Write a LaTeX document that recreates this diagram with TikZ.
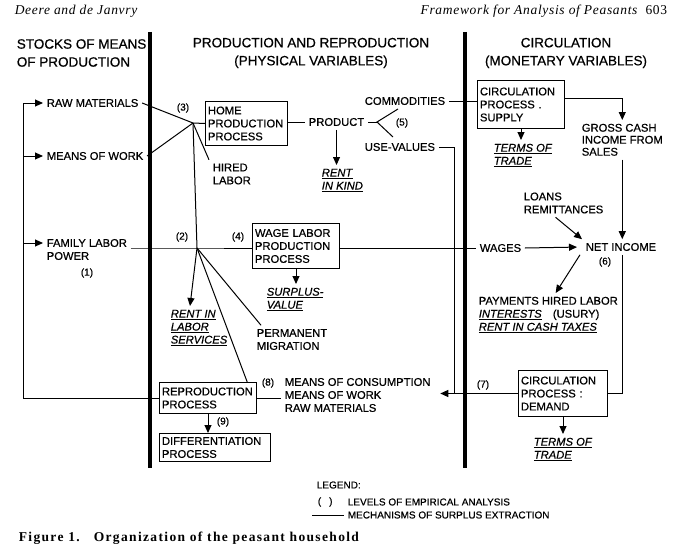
\documentclass[tikz,border=0pt]{standalone}
\usepackage{fontspec}
\setmainfont{Liberation Sans}[FakeBold=0.6]
\newfontfamily\hdrfont[LetterSpace=5]{Liberation Serif}
\newfontfamily\capfont[LetterSpace=10]{Liberation Serif}
\usetikzlibrary{arrows.meta,calc}
\newcommand{\ulit}[1]{\underline{\textit{#1}}}

\begin{document}
\begin{tikzpicture}[x=1pt,y=-1pt,
    font=\fontsize{11.2}{13}\selectfont,
    line width=1pt,
    box/.style={draw, align=left, anchor=north west, inner sep=2.5pt},
    tri/.style={-{Triangle[length=8pt,width=7pt]}},
    divider/.style={line width=3.5pt},
    heading/.style={font=\fontsize{13.5}{18}\selectfont, align=center},
    lvl/.style={font=\fontsize{10}{12}\selectfont},
    legendtxt/.style={font=\fontsize{10}{12}\selectfont, anchor=west}]
  \useasboundingbox (0,0) rectangle (680,551);

  % page header
  \node (hdrleft) at (11,11) [anchor=west, font={\hdrfont\itshape\fontsize{13.5}{15}\selectfont}] {Deere and de Janvry};
  \node (hdrright) at (671,11) [anchor=east, font={\hdrfont\itshape\fontsize{13.5}{15}\selectfont}] {Framework for Analysis of Peasants\ \ \textup{603}};

  % column dividers
  \draw[divider] (150,32) -- (150,468);
  \draw[divider] (465,32) -- (465,468);

  % column headings
  \node (stockhd) at (13,53) [heading, anchor=west, align=left] {STOCKS OF MEANS\\OF PRODUCTION};
  \node (prodhd) at (311,53) [heading] {PRODUCTION AND REPRODUCTION\\(PHYSICAL VARIABLES)};
  \node (circhd) at (566,53) [heading] {CIRCULATION\\(MONETARY VARIABLES)};

  % stocks
  \node (raw) at (43,103) [anchor=west] {RAW MATERIALS};
  \node (work) at (43,156) [anchor=west] {MEANS OF WORK};
  \node (family) at (43,243) [anchor=west] {FAMILY LABOR};
  \node (power) at (43,256) [anchor=west] {POWER};
  \node (lvl1) at (87,273) [lvl] {(1)};

  \coordinate (looptop) at (23,103);
  \coordinate (j3) at (193,123);
  \coordinate (j2) at (197,248);

  % boxes
  \node (home) [box, text width=77pt, minimum height=44pt] at (205,101) {HOME\\PRODUCTION\\PROCESS};
  \node (wage) [box, text width=82pt, minimum height=45pt] at (252,223) {WAGE LABOR\\PRODUCTION\\PROCESS};
  \node (repro) [box, text width=92pt, minimum height=31pt] at (159,382) {REPRODUCTION\\PROCESS};
  \node (diff) [box, text width=106pt, minimum height=28pt] at (159,433) {DIFFERENTIATION\\PROCESS};
  \node (supply) [box, text width=82pt, minimum height=48pt] at (477,80) {CIRCULATION\\PROCESS .\\SUPPLY};
  \node (demand) [box, text width=84pt, minimum height=46pt] at (518,370) {CIRCULATION\\PROCESS :\\DEMAND};

  % level labels
  \node (lvl2) at (182,237) [lvl] {(2)};
  \node (lvl3) at (183,108) [lvl] {(3)};
  \node (lvl4) at (238,237) [lvl] {(4)};
  \node (lvl5) at (402,123) [lvl] {(5)};
  \node (lvl6) at (605,262) [lvl] {(6)};
  \node (lvl7) at (483,385) [lvl] {(7)};
  \node (lvl8) at (268,383) [lvl] {(8)};
  \node (lvl9) at (223,422) [lvl] {(9)};

  % physical side
  \node (hired) at (209,174) [anchor=west, align=left] {HIRED\\LABOR};
  \node (product) at (305,122) [anchor=west] {PRODUCT};
  \node (rentkind) at (318,165) [anchor=north west, align=left] {\ulit{RENT}\\\ulit{IN KIND}};
  \node (commod) at (361,101) [anchor=west] {COMMODITIES};
  \node (usevals) at (361,147) [anchor=west] {USE-VALUES};
  \node (surplus) at (263,284) [anchor=north west, align=left] {\ulit{SURPLUS-}\\\ulit{VALUE}};
  \node (rentlab) at (167,306) [anchor=north west, align=left] {\ulit{RENT IN}\\\ulit{LABOR}\\\ulit{SERVICES}};
  \node (perm) at (253,339.5) [anchor=west, align=left] {PERMANENT\\MIGRATION};
  \node (means) at (281,395) [anchor=west, align=left] {MEANS OF CONSUMPTION\\MEANS OF WORK\\RAW MATERIALS};
  \coordinate (fork) at (377,122);
  \coordinate (forkup) at (398,109);
  \coordinate (forkdn) at (393,137);
  \coordinate (uvx) at (454,147);

  % monetary side
  \node (tot1) at (490,140) [anchor=north west, align=left] {\ulit{TERMS OF}\\\ulit{TRADE}};
  \node (gross) at (578,120) [anchor=north west, align=left, font=\fontsize{11.2}{12}\selectfont] {GROSS CASH\\INCOME FROM\\SALES};
  \node (loans) at (520,203) [anchor=west, align=left] {LOANS\\REMITTANCES};
  \node (wages) at (476,248) [anchor=west] {WAGES};
  \node (netinc) at (582,247) [anchor=west] {NET INCOME};
  \node (pay) at (475,293) [anchor=north west, align=left] {PAYMENTS HIRED LABOR\\\ulit{INTERESTS}\quad(USURY)\\\ulit{RENT IN CASH TAXES}};
  \node (tot2) at (530,434) [anchor=north west, align=left] {\ulit{TERMS OF}\\\ulit{TRADE}};

  % feedback loop to stocks
  \draw (repro.west) -| (looptop);
  \draw[tri] (looptop) -- (raw.west);
  \draw[tri] (looptop |- work.west) -- (work.west);
  \draw[tri] (looptop |- family.west) -- (family.west);

  % home production
  \draw (raw.east) -- (j3);
  \draw (work.east) -- (j3);
  \draw (j3) -- (home.west);
  \draw (j3) -- (hired.north west);
  \draw (j3) -- (j2);
  \draw (home.east |- product) -- (product.west);
  \draw (product.east) -- (fork);
  \draw (forkup) -- (fork) -- (forkdn);
  \draw[tri] (product.south) -- (product.south |- rentkind.north);
  \draw (commod.east) -- (commod.east -| supply.west);
  \draw (usevals.east) -| (uvx |- demand.west);

  % family labor
  \draw (family.east |- j2) -- (j2) -- (wage.west |- j2);
  \draw[tri] (j2) -- ($(rentlab.north west)+(23,0)$);
  \draw (j2) -- ($(perm.north west)+(8,0)$);
  \draw (j2) -- ($(repro.north west)!0.9!(repro.north east)$);
  \draw[tri] (wage.south) -- (wage.south |- surplus.north);
  \draw (wage.east |- wages) -- (wages.west);

  % circulation
  \draw[tri] (supply.south) -- (supply.south |- tot1.north);
  \draw[tri] ([yshift=6pt]supply.east) -| (gross.north);
  \draw[tri] (gross.south) -- (gross.south |- netinc.north);
  \draw[tri] ([xshift=-8pt]loans.south) -- (netinc.north west);
  \draw[tri, shorten >=5pt] (wages.east) -- (netinc.west);
  \draw[tri] ([xshift=-2pt]netinc.south west) -- ($(pay.north west)!0.55!(pay.north east)$);
  \draw (gross.south |- netinc.south) |- (demand.east);
  \draw[tri] (demand.west) -- ([xshift=6pt]demand.west -| means.east);
  \draw[tri] (demand.south) -- (demand.south |- tot2.north);

  % reproduction
  \draw (repro.east) -- (repro.east -| means.west);
  \draw[tri] (repro.south) -- (repro.south |- diff.north);

  % legend
  \node (legend) at (313,485) [legendtxt] {LEGEND:};
  \node (lvlkey) at (314,502) [legendtxt] {(\hspace{8pt})};
  \node (levels) at (344,502) [legendtxt] {LEVELS OF EMPIRICAL ANALYSIS};
  \node (mech) at (344,515) [legendtxt] {MECHANISMS OF SURPLUS EXTRACTION};
  \coordinate (legline) at (312,515);
  \draw (legline) -- (mech.west);

  % caption
  \node (caption) at (15,538) [anchor=west, font={\capfont\bfseries\fontsize{13.5}{15}\selectfont}] {Figure 1.\hspace{14pt}Organization of the peasant household};
\end{tikzpicture}
\end{document}
